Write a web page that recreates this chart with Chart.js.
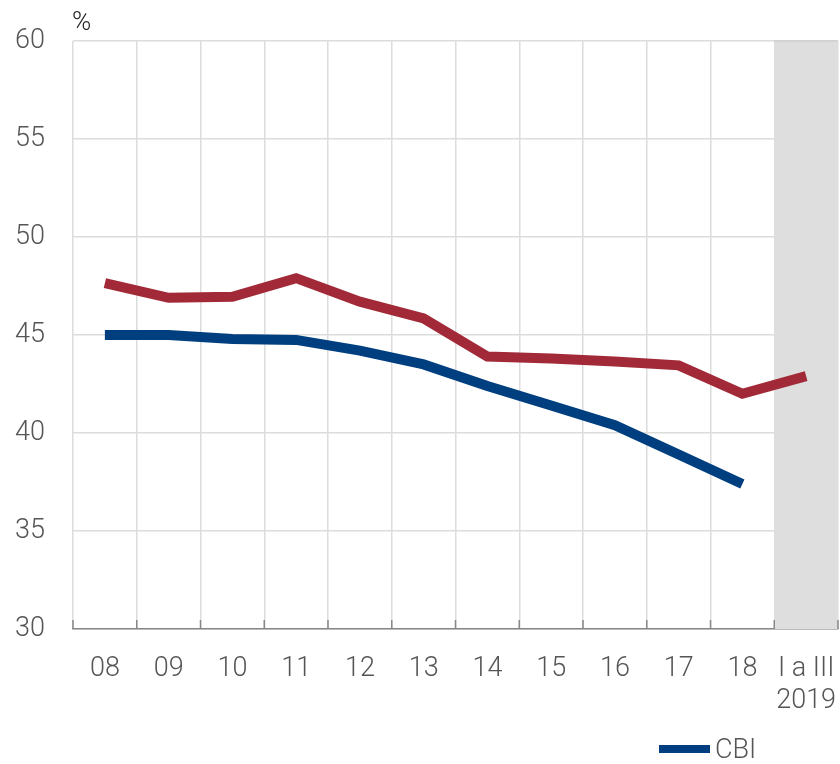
<!DOCTYPE html>
<html>
<head>
<meta charset="utf-8">
<script src="https://cdn.jsdelivr.net/npm/chart.js@4.4.1/dist/chart.umd.min.js"></script>
<style>
  body { margin: 0; background: #fff; }
  #wrap { position: relative; width: 840px; height: 764px; }
  #legend { position: absolute; left: 659px; top: 733px; font-family: Roboto, "Liberation Sans", sans-serif; font-weight: 300; font-size: 27px; color: #555; display: flex; align-items: center; }
  #legend span.bar { display: inline-block; width: 51px; height: 8px; background: #003f7f; margin-right: 5px; }
</style>
</head>
<body>
<div id="wrap">
  <canvas id="chart" width="840" height="764"></canvas>
  <div id="legend"><span class="bar"></span>CBI</div>
</div>
<script>
var labels = ['08', '09', '10', '11', '12', '13', '14', '15', '16', '17', '18', ['I a III', '2019']];
var totalValues = [47.65, 46.9, 46.95, 47.9, 46.7, 45.85, 43.9, 43.8, 43.65, 43.45, 42.0, 42.9];
var cbiValues = [45.0, 45.0, 44.8, 44.75, 44.2, 43.5, 42.4, 41.4, 40.4, 38.9, 37.4, null];
var shadedIndex = 11;

var tickFont = { family: 'Roboto, "Liberation Sans", sans-serif', size: 27, weight: 300, lineHeight: 1.2 };

// grey band behind the last category, percent sign, inner tick marks
var extras = {
  id: 'extras',
  beforeDatasetsDraw: function(chart) {
    var ctx = chart.ctx, x = chart.scales.x, area = chart.chartArea;
    var half = (x.getPixelForValue(1) - x.getPixelForValue(0)) / 2;
    var cx = x.getPixelForValue(shadedIndex);
    ctx.save();
    ctx.fillStyle = '#dedede';
    ctx.fillRect(cx - half, area.top, half * 2, area.bottom - area.top);
    ctx.strokeStyle = '#d0d0d0';
    ctx.lineWidth = 1.5;
    ctx.beginPath();
    ctx.moveTo(cx - half, area.top);
    ctx.lineTo(cx + half, area.top);
    ctx.stroke();
    // short dark ticks pointing up from the axis
    ctx.strokeStyle = '#888';
    ctx.lineWidth = 1.5;
    for (var i = 0; i <= labels.length; i++) {
      var px = x.getPixelForValue(0) - half + i * half * 2;
      ctx.beginPath();
      ctx.moveTo(px, area.bottom);
      ctx.lineTo(px, area.bottom - 9);
      ctx.stroke();
    }
    ctx.restore();
  },
  afterDraw: function(chart) {
    var ctx = chart.ctx, area = chart.chartArea;
    ctx.save();
    ctx.fillStyle = '#222';
    ctx.font = '300 26px Roboto, "Liberation Sans", sans-serif';
    ctx.textBaseline = 'bottom';
    ctx.fillText('%', area.left - 1, area.top - 5);
    ctx.restore();
  }
};

new Chart(document.getElementById('chart'), {
  type: 'line',
  data: {
    labels: labels,
    datasets: [{
      label: 'Total',
      data: totalValues,
      borderColor: '#a22a38',
      backgroundColor: 'transparent',
      borderWidth: 10,
      pointRadius: 0,
      tension: 0
    },
    {
      label: 'CBI',
      data: cbiValues,
      borderColor: '#003f7f',
      backgroundColor: 'transparent',
      borderWidth: 10,
      pointRadius: 0,
      tension: 0
    }]
  },
  options: {
    responsive: false,
    animation: false,
    layout: { padding: { top: 41, right: 2, left: 0, bottom: 0 } },
    plugins: {
      legend: { display: false },
      tooltip: { enabled: false }
    },
    scales: {
      x: {
        offset: true,
        grid: { offset: true, color: '#dcdcdc', lineWidth: 1.5, drawTicks: false },
        border: { color: '#888', width: 1.5 },
        ticks: { font: tickFont, color: '#555', padding: 24, maxRotation: 0, autoSkip: false },
        afterFit: function(scale) {
          scale.height = 135;
          scale.paddingLeft = 0;
          scale.paddingRight = 0;
        }
      },
      y: {
        min: 30,
        max: 60,
        ticks: { stepSize: 5, font: tickFont, color: '#555', padding: 28 },
        grid: { color: '#dcdcdc', lineWidth: 1.5, drawTicks: false },
        border: { display: false },
        afterFit: function(scale) {
          scale.width = 73;
          scale.paddingTop = 0;
          scale.paddingBottom = 0;
        }
      }
    }
  },
  plugins: [extras]
});
</script>
</body>
</html>
